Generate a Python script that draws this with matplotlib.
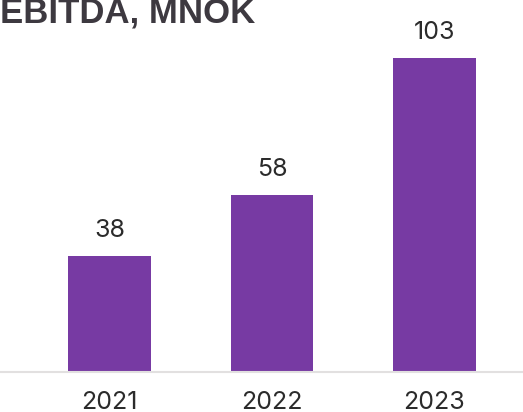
import matplotlib
matplotlib.use('Agg')
from matplotlib import pyplot as plt

years = ['2021', '2022', '2023']
ebitda = [38, 58, 103]

bar_color = '#773aa3'
text_color = '#2b2b2b'

fig = plt.figure(figsize=(5.23, 4.12), dpi=100)
ax = fig.add_axes([0, 0.097, 1, 0.903])

x = range(len(years))
bars = ax.bar(x, ebitda, width=0.51, color=bar_color, zorder=2)

ax.set_xlim(-0.674, 2.545)
ax.set_ylim(0, 122)
ax.set_xticks(list(x))
ax.set_xticklabels(years, fontsize=18, color=text_color, family='Inter')
ax.tick_params(axis='x', length=0, pad=14)
ax.set_yticks([])

for s in ['top', 'right', 'left']:
    ax.spines[s].set_visible(False)
ax.spines['bottom'].set_color('#e2e0e0')
ax.spines['bottom'].set_linewidth(1.5)

for xi, v in zip(x, ebitda):
    ax.annotate(str(v), (xi, v), xytext=(0, 10), textcoords='offset points',
                ha='center', va='bottom', fontsize=18, color=text_color, family='Inter')

fig.text(0.0, 0.9466, 'EBITDA, MNOK', fontsize=25, fontweight='bold',
         color='#3d3940', family='Liberation Sans', ha='left', va='baseline')

fig.savefig('out.png', dpi=100)
